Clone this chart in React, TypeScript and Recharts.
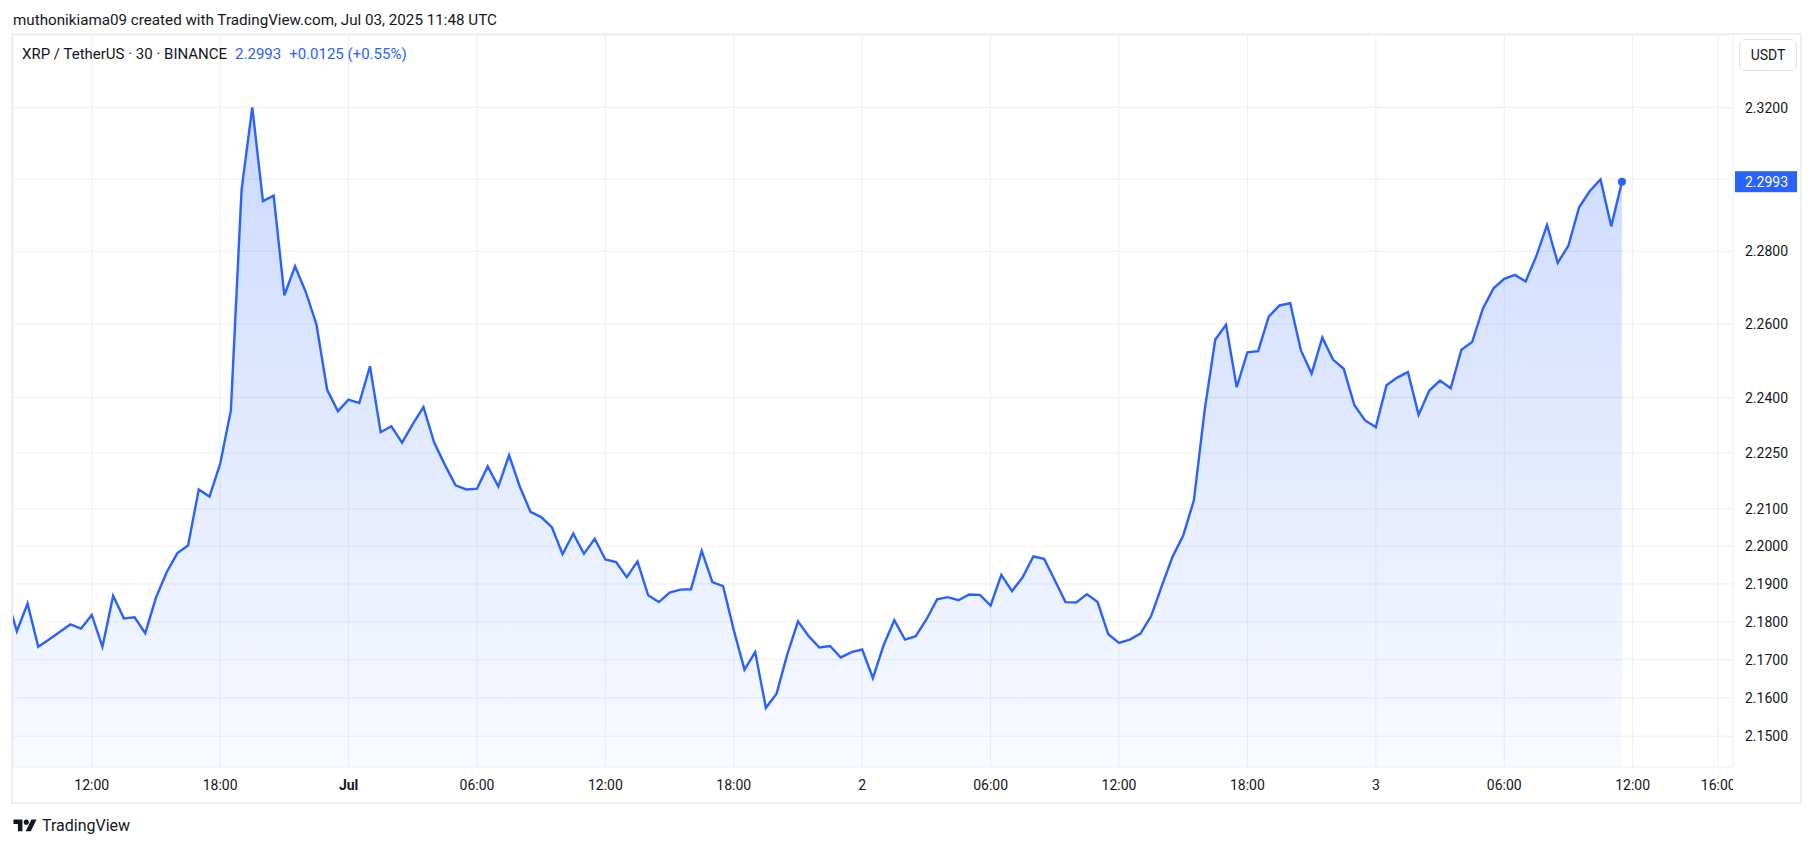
import { AreaChart, Area, XAxis, YAxis, CartesianGrid, ReferenceLine } from 'recharts'

// XRP / TetherUS, 30 minute bars, hours counted from Jun 30 00:00 UTC
const barStartHour = 8
const barStepHours = 0.5

const closes = [
  2.1870, 2.1775, 2.1848, 2.1734, 2.1753, 2.1773, 2.1793, 2.1782,
  2.1818, 2.1734, 2.1869, 2.1809, 2.1812, 2.1770, 2.1864, 2.1931,
  2.1982, 2.2002, 2.2152, 2.2133, 2.2221, 2.2365, 2.2970, 2.3201,
  2.2939, 2.2954, 2.2679, 2.2759, 2.2688, 2.2599, 2.2421, 2.2363,
  // Jul 1
  2.2394, 2.2385, 2.2485, 2.2306, 2.2322, 2.2278, 2.2328, 2.2374,
  2.2278, 2.2218, 2.2163, 2.2152, 2.2154, 2.2214, 2.2160, 2.2244,
  2.2160, 2.2092, 2.2078, 2.2051, 2.1979, 2.2034, 2.1980, 2.2020,
  2.1965, 2.1958, 2.1918, 2.1960, 2.1870, 2.1852, 2.1877, 2.1885,
  2.1886, 2.1988, 2.1905, 2.1894, 2.1778, 2.1674, 2.1720, 2.1574,
  2.1611, 2.1714, 2.1801, 2.1762, 2.1732, 2.1736, 2.1706, 2.1720,
  // Jul 2
  2.1727, 2.1652, 2.1738, 2.1804, 2.1753, 2.1762, 2.1806, 2.1859,
  2.1865, 2.1857, 2.1872, 2.1871, 2.1843, 2.1924, 2.1881, 2.1918,
  2.1973, 2.1967, 2.1910, 2.1852, 2.1851, 2.1873, 2.1852, 2.1767,
  2.1744, 2.1753, 2.1769, 2.1815, 2.1895, 2.1972, 2.2029, 2.2123,
  2.2365, 2.2558, 2.2598, 2.2428, 2.2523, 2.2526, 2.2621, 2.2651,
  2.2657, 2.2528, 2.2465, 2.2563, 2.2503, 2.2478, 2.2379, 2.2338,
  // Jul 3
  2.2320, 2.2433, 2.2454, 2.2469, 2.2353, 2.2419, 2.2446, 2.2425,
  2.2530, 2.2551, 2.2642, 2.2698, 2.2724, 2.2735, 2.2717, 2.2787,
  2.2873, 2.2768, 2.2816, 2.2922, 2.2967, 2.2999, 2.2869, 2.2993,
]

const timeTicks = [12, 18, 24, 30, 36, 42, 48, 54, 60, 66, 72, 78, 84, 88]
const timeTickLabels = ['12:00', '18:00', 'Jul', '06:00', '12:00', '18:00', '2', '06:00', '12:00', '18:00', '3', '06:00', '12:00', '16:00']
const boldTimeLabels = ['Jul']

const priceTicks = [2.15, 2.16, 2.17, 2.18, 2.19, 2.2, 2.21, 2.225, 2.24, 2.26, 2.28, 2.3, 2.32]
const hiddenPriceTick = 2.3 // covered by the last price tag

const lastPrice = 2.2993
const change = '+0.0125 (+0.55%)'

const data = closes.map((close, i) => ({ t: barStartHour + i * barStepHours, close }))

const CHART_W = 1814
const CHART_H = 847
const MARGIN = { top: 35, right: 14, bottom: 44, left: 13 }
const Y_AXIS_W = 67
const X_AXIS_H = 36
const PLOT_RIGHT = CHART_W - MARGIN.right - Y_AXIS_W

const BLUE = '#2962ff'
const TEXT = '#131722'
const GRID = '#edeff3'
const FONT = 'Roboto, "Noto Sans", sans-serif'

function TimeTick({ x, y, payload }: any) {
  const idx = timeTicks.indexOf(payload.value)
  const label = timeTickLabels[idx] ?? ''
  const bold = boldTimeLabels.includes(label)
  return (
    <svg x={x - 30} y={y} width={Math.max(0, PLOT_RIGHT - (x - 30))} height={34} overflow="hidden">
      <text x={30} y={23} textAnchor="middle" fill={TEXT} fontSize={14} fontFamily={FONT} fontWeight={bold ? 700 : 400}>
        {label}
      </text>
    </svg>
  )
}

function PriceTick({ x, y, payload }: any) {
  if (Math.abs(payload.value - hiddenPriceTick) < 1e-9) return <g />
  return (
    <text x={x} y={y} dy={5} fill={TEXT} fontSize={14} fontFamily={FONT} textAnchor="start">
      {payload.value.toFixed(4)}
    </text>
  )
}

function PriceTag(props: any) {
  const vb = props.viewBox
  if (!vb) return <g />
  const left = vb.x + vb.width + 2
  return (
    <g>
      <rect x={left} y={vb.y - 10.5} width={62} height={21} fill={BLUE} />
      <text x={left + 10} y={vb.y + 5} fill="#ffffff" fontSize={14} fontFamily={FONT}>
        {lastPrice.toFixed(4)}
      </text>
    </g>
  )
}

function LastDot(props: any) {
  const { cx, cy, index } = props
  if (index !== data.length - 1) return <g key={`d-${index}`} />
  return <circle key={`d-${index}`} cx={cx} cy={cy} r={4} fill={BLUE} />
}

export default function App() {
  return (
    <div style={{ position: 'absolute', left: 0, top: 0, width: CHART_W, height: CHART_H, background: '#fff', fontFamily: FONT, color: TEXT, overflow: 'hidden' }}>
      <div style={{ position: 'absolute', left: 13, top: 13, fontSize: 15.2, lineHeight: '15px', whiteSpace: 'nowrap' }}>
        muthonikiama09 created with TradingView.com, Jul 03, 2025 11:48 UTC
      </div>

      <div style={{ position: 'absolute', left: 11, top: 33, width: 1791, height: 771, border: `2px solid ${GRID}`, boxSizing: 'border-box' }} />

      <div style={{ position: 'absolute', left: 0, top: 0 }}>
        <AreaChart width={CHART_W} height={CHART_H} data={data} margin={MARGIN}>
          <defs>
            <linearGradient id="xrpFill" x1="0" y1="0" x2="0" y2="1">
              <stop offset="0%" stopColor={BLUE} stopOpacity={0.24} />
              <stop offset="100%" stopColor={BLUE} stopOpacity={0.03} />
            </linearGradient>
          </defs>
          <CartesianGrid stroke={GRID} />
          <XAxis
            dataKey="t"
            type="number"
            domain={[8.32, 88.69]}
            allowDataOverflow
            ticks={timeTicks}
            interval={0}
            height={X_AXIS_H}
            axisLine={false}
            tickLine={false}
            tickSize={0}
            tickMargin={0}
            tick={<TimeTick />}
          />
          <YAxis
            orientation="right"
            type="number"
            scale="log"
            domain={[2.142, 2.3405]}
            allowDataOverflow
            ticks={priceTicks}
            interval={0}
            width={Y_AXIS_W}
            axisLine={false}
            tickLine={false}
            tickSize={0}
            tickMargin={12}
            tick={<PriceTick />}
          />
          <ReferenceLine y={lastPrice} stroke="none" label={<PriceTag />} />
          <Area
            type="linear"
            dataKey="close"
            stroke={BLUE}
            strokeWidth={2.4}
            fill="url(#xrpFill)"
            fillOpacity={1}
            dot={LastDot}
            activeDot={false}
            isAnimationActive={false}
          />
        </AreaChart>
      </div>

      <div style={{ position: 'absolute', left: 22, top: 47, fontSize: 15, lineHeight: '15px', whiteSpace: 'nowrap' }}>
        <span>XRP / TetherUS · 30 · BINANCE</span>
        <span style={{ color: BLUE, marginLeft: 8 }}>{lastPrice.toFixed(4)}</span>
        <span style={{ color: BLUE, marginLeft: 8 }}>{change}</span>
      </div>

      <div style={{ position: 'absolute', left: 1739, top: 39, width: 58, height: 32, border: '1px solid #e0e3eb', borderRadius: 6, boxSizing: 'border-box', fontSize: 14, display: 'flex', alignItems: 'center', justifyContent: 'center' }}>
        USDT
      </div>

      <div style={{ position: 'absolute', left: 12, top: 816, display: 'flex', alignItems: 'center', whiteSpace: 'nowrap' }}>
        <svg width={26} height={18} viewBox="0 0 36 28">
          <path d="M14 22H7V11H0V4h14v18z" fill={TEXT} />
          <circle cx={20} cy={8} r={4} fill={TEXT} />
          <path d="M28 4h8L27 22h-8l9-18z" fill={TEXT} />
        </svg>
        <span style={{ fontSize: 16, marginLeft: 4 }}>TradingView</span>
      </div>
    </div>
  )
}
